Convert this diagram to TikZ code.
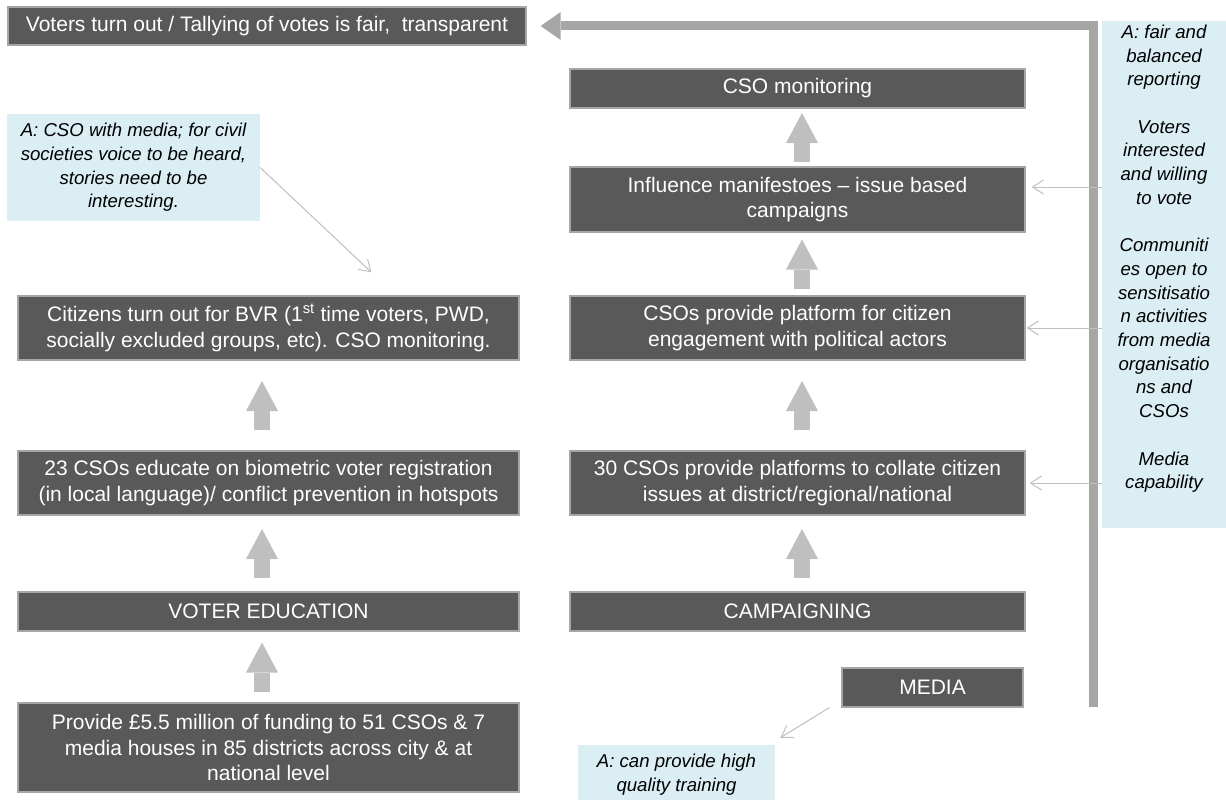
\documentclass[tikz,border=0pt]{standalone}
\usepackage{fontspec}
\setmainfont{Liberation Sans}
\usepackage{tikz}
\usetikzlibrary{arrows.meta,calc,positioning}

\definecolor{boxgrey}{HTML}{595959}
\definecolor{edgegrey}{HTML}{A6A6A6}
\definecolor{arrowgrey}{HTML}{BFBFBF}
\definecolor{loopgrey}{HTML}{A6A6A6}
\definecolor{paleblue}{HTML}{DAEEF3}

\tikzset{
  stage/.style={draw=edgegrey, line width=1.2pt, fill=boxgrey, text=white, align=center,
    inner xsep=2pt, inner ysep=0pt, font=\fontsize{21}{25.7}\selectfont},
  notebox/.style={fill=paleblue, align=center, inner sep=0pt,
    font=\fontsize{18.6}{23.7}\selectfont\itshape},
  blockarrow/.style={arrowgrey, line width=16pt, -{Triangle[length=30pt,width=32pt,line width=0pt]}},
  thinarrow/.style={arrowgrey, line width=1pt, -{Straight Barb[length=11pt,width=14pt]}},
  loop/.style={loopgrey, line width=9pt, -{Triangle[length=20pt,width=28pt,line width=0pt]}}
}

\begin{document}
\begin{tikzpicture}[x=1pt,y=-1pt]

\useasboundingbox (0,0) rectangle (1226,800);
\clip (0,0) rectangle (1226,800);

\node[stage, minimum width=518, minimum height=38] (outcome) at (267,26) {Voters turn out / Tallying of votes is fair,\ \ transparent};

% right column
\node[stage, minimum width=455, minimum height=39] (monitor) at (797.5,88.5) {CSO monitoring};
\node[stage, minimum width=455, minimum height=65] (manifesto) at (797.5,199.5) {Influence manifestoes -- issue based\\campaigns};
\node[stage, minimum width=455, minimum height=64] (platform) at (797.5,328) {CSOs provide platform for citizen\\engagement with political actors};
\node[stage, minimum width=455, minimum height=64] (collate) at (797.5,483) {30 CSOs provide platforms to collate citizen\\issues at district/regional/national};
\node[stage, minimum width=455, minimum height=39] (campaign) at (797.5,611.5) {CAMPAIGNING};
\node[stage, minimum width=181, minimum height=39] (media) at (932.5,687.5) {MEDIA};

% left column
\node[stage, minimum width=501, minimum height=64] (citizens) at (268.5,328) {Citizens turn out for BVR (1\textsuperscript{st} time voters, PWD,\\socially excluded groups, etc). CSO monitoring.};
\node[stage, minimum width=501, minimum height=64] (educate) at (268.5,483) {23 CSOs educate on biometric voter registration\\(in local language)/ conflict prevention in hotspots};
\node[stage, minimum width=501, minimum height=39] (votered) at (268.5,611.5) {VOTER EDUCATION};
\node[stage, minimum width=501, minimum height=89] (funding) at (268.5,747.5) {Provide £5.5 million of funding to 51 CSOs \& 7\\media houses in 85 districts across city \& at\\national level};

\node[notebox, minimum width=253, minimum height=107] (note) at (133.5,167.5) {A: CSO with media; for civil\\societies voice to be heard,\\stories need to be\\interesting.};
\node[notebox, minimum width=197, minimum height=60] (training) at (676.5,775) {A: can provide high\\quality training};

\node[notebox, minimum width=124, minimum height=507] (assumptions) at (1164,274.5) {};
\node[notebox, fill=none, anchor=north] (assumtext) at ([yshift=-4pt]assumptions.north) {A: fair and\\balanced\\reporting\\[23.7pt]Voters\\interested\\and willing\\to vote\\[23.7pt]Communiti\\es open to\\sensitisatio\\n activities\\from media\\organisatio\\ns and\\CSOs\\[23.7pt]Media\\capability};

\foreach \lo/\hi/\dx in {educate/citizens/-6.5, votered/educate/-6.5, funding/votered/-6.5,
  manifesto/monitor/4.5, platform/manifesto/4.5, collate/platform/4.5, campaign/collate/4.5}
  \draw[blockarrow] ($(\lo.north)!.5!(\hi.south)+(\dx,24.5)$) -- ++(0,-49);

\coordinate (loopfoot) at (1093,707);
\draw[loop, shorten >=14pt] (loopfoot) |- (outcome.east);

\coordinate (mfin) at ([yshift=12.5pt]manifesto.east);
\draw[thinarrow, shorten >=6pt] (assumptions.west |- mfin) -- (mfin);
\draw[thinarrow, shorten >=1pt] (assumptions.west |- platform.east) -- (platform.east);
\draw[thinarrow, shorten >=4pt] (assumptions.west |- collate.east) -- (collate.east);

\draw[thinarrow] (note.east) -- ([xshift=103pt,yshift=23pt]citizens.north);
\draw[thinarrow] ([xshift=-12pt]media.south west) -- ([xshift=5pt,yshift=7pt]training.north east);

%\draw[red] (0,0) rectangle (1226,800);

\end{tikzpicture}
\end{document}
